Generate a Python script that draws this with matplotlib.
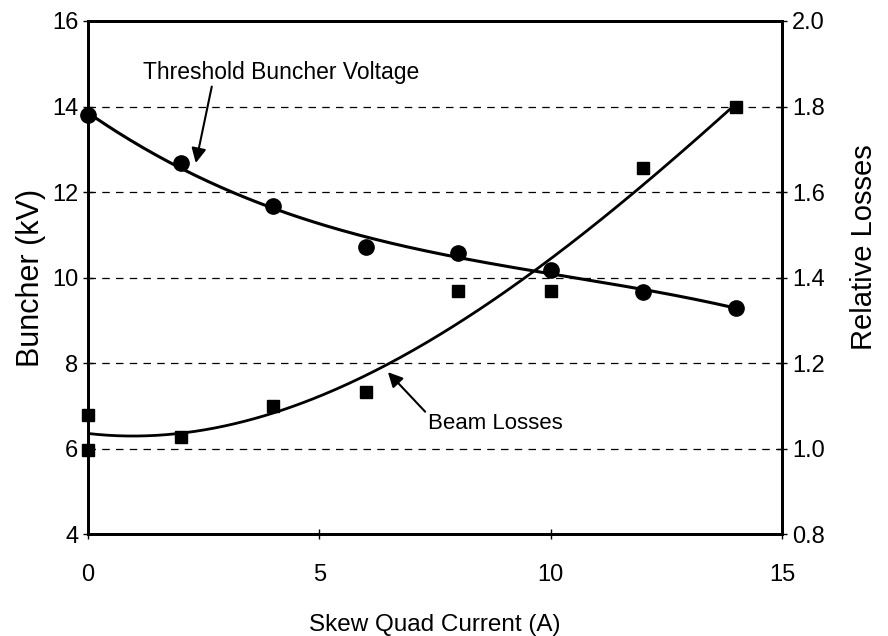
import numpy as np
import matplotlib
matplotlib.use("Agg")
import matplotlib.pyplot as plt

# skew quad current (A)
current = [0, 2, 4, 6, 8, 10, 12, 14]
buncher_kv = [13.8, 12.68, 11.67, 10.71, 10.57, 10.18, 9.66, 9.29]

# beam losses, two readings at 0 A
loss_current = [0, 0, 2, 4, 6, 8, 10, 12, 14]
rel_losses = [1.078, 0.996, 1.027, 1.10, 1.132, 1.368, 1.368, 1.656, 1.799]

left_ticks = [4, 6, 8, 10, 12, 14, 16]
right_ticks = [0.8, 1.0, 1.2, 1.4, 1.6, 1.8, 2.0]
x_ticks = [0, 5, 10, 15]

plt.rcParams['font.family'] = ['Liberation Sans', 'DejaVu Sans']

fig = plt.figure(figsize=(8.88, 6.36), dpi=100)
ax = fig.add_axes([0.099, 0.160, 0.782, 0.807])
ax2 = ax.twinx()

ax.set_xlim(0, 15)
ax.set_ylim(4, 16)
ax2.set_ylim(0.8, 2.0)

# dashed grid
for v in left_ticks[1:-1]:
    ax.axhline(v, color='black', lw=0.9, ls=(0, (6, 5)), zorder=1)

# trendlines (cubic fits) plus measured points
xs = np.linspace(0, 14, 200)
pb = np.polyfit(current, buncher_kv, 3)
ax.plot(xs, np.polyval(pb, xs), color='black', lw=2.2, zorder=3)
ax.plot(current, buncher_kv, 'o', color='black', ms=11, zorder=4, clip_on=False)

pl = np.polyfit(loss_current, rel_losses, 3)
ax2.plot(xs, np.polyval(pl, xs), color='black', lw=2.0, zorder=3)
ax2.plot(loss_current, rel_losses, 's', color='black', ms=8, zorder=4, clip_on=False)

ax.set_xticks(x_ticks)
ax.set_yticks(left_ticks)
ax2.set_yticks(right_ticks)
ax2.set_yticklabels([f"{v:.1f}" for v in right_ticks])

for a in (ax, ax2):
    a.tick_params(direction='inout', length=7, width=1, labelsize=17, colors='black')
    for s in a.spines.values():
        s.set_linewidth(2)
ax.tick_params(axis='x', pad=18)

ax.set_ylabel("Buncher (kV)", fontsize=22, labelpad=4)
ax2.set_ylabel("Relative Losses", fontsize=21)
ax2.yaxis.set_label_coords(1.097, 0.56)
ax.set_xlabel("Skew Quad Current (A)", fontsize=17.5, labelpad=20)

ax.annotate("Threshold Buncher Voltage", xy=(2.33, 12.68), xytext=(4.18, 14.8),
            fontsize=16.5, ha='center', va='center',
            arrowprops=dict(arrowstyle='-|>', color='black', lw=1.5,
                            mutation_scale=22, shrinkA=0, shrinkB=0,
                            relpos=(0.25, 0.0)))
ax.annotate("Beam Losses", xy=(6.48, 7.79), xytext=(8.8, 6.6),
            fontsize=16, ha='center', va='center',
            arrowprops=dict(arrowstyle='-|>', color='black', lw=1.5,
                            mutation_scale=22, shrinkA=0, shrinkB=0,
                            relpos=(0.0, 0.9)))

fig.savefig("out.png", dpi=100)
